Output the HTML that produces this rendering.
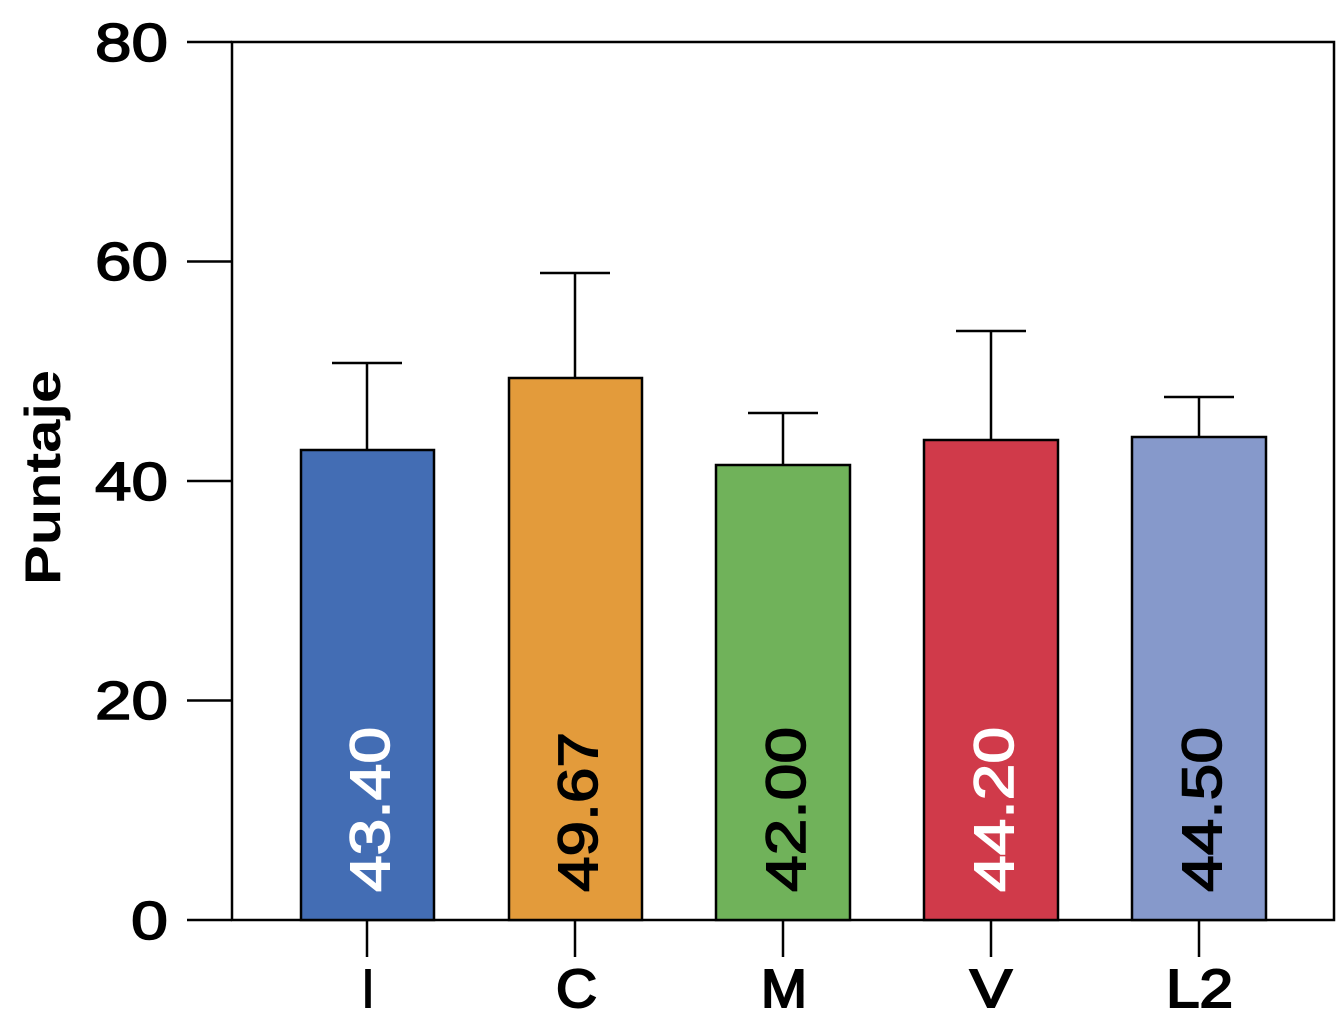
<!DOCTYPE html>
<html><head><meta charset="utf-8"><style>body{margin:0;background:#fff}svg{display:block}</style></head><body>
<svg width="1336" height="1024" xmlns="http://www.w3.org/2000/svg" font-family="Liberation Sans, sans-serif">
<rect width="1336" height="1024" fill="#fff"/>
<g stroke="#000" stroke-width="2.5" fill="none">
<rect x="232" y="42" width="1102" height="878"/>
<line x1="187" y1="42" x2="232" y2="42"/>
<line x1="187" y1="261.5" x2="232" y2="261.5"/>
<line x1="187" y1="481" x2="232" y2="481"/>
<line x1="187" y1="700.5" x2="232" y2="700.5"/>
<line x1="187" y1="920" x2="232" y2="920"/>
</g>
<g font-size="54" fill="#000" stroke="#000" stroke-width="1.5">
<text x="95" y="61" textLength="73" lengthAdjust="spacingAndGlyphs">80</text>
<text x="95" y="280" textLength="73" lengthAdjust="spacingAndGlyphs">60</text>
<text x="95" y="500" textLength="73" lengthAdjust="spacingAndGlyphs">40</text>
<text x="95" y="719" textLength="73" lengthAdjust="spacingAndGlyphs">20</text>
<text x="131" y="939" textLength="37" lengthAdjust="spacingAndGlyphs">0</text>
</g>
<text transform="translate(60,585) rotate(-90)" font-size="50" font-weight="bold" textLength="215" lengthAdjust="spacingAndGlyphs">Puntaje</text>
<g stroke="#000" stroke-width="2.5">
<line x1="367" y1="450" x2="367" y2="363"/><line x1="332" y1="363" x2="402" y2="363"/>
<line x1="575" y1="378" x2="575" y2="273"/><line x1="540" y1="273" x2="610" y2="273"/>
<line x1="783" y1="465" x2="783" y2="413"/><line x1="748" y1="413" x2="818" y2="413"/>
<line x1="991" y1="440" x2="991" y2="331"/><line x1="956" y1="331" x2="1026" y2="331"/>
<line x1="1199" y1="437" x2="1199" y2="397"/><line x1="1164" y1="397" x2="1234" y2="397"/>
<rect x="301" y="450" width="133" height="470" fill="#436db4"/>
<rect x="509" y="378" width="133" height="542" fill="#e39b3b"/>
<rect x="716" y="465" width="134" height="455" fill="#70b25a"/>
<rect x="924" y="440" width="134" height="480" fill="#d03a4a"/>
<rect x="1132" y="437" width="134" height="483" fill="#8699cb"/>
<line x1="367" y1="920" x2="367" y2="957"/>
<line x1="575" y1="920" x2="575" y2="957"/>
<line x1="783" y1="920" x2="783" y2="957"/>
<line x1="991" y1="920" x2="991" y2="957"/>
<line x1="1199" y1="920" x2="1199" y2="957"/>
</g>
<g font-size="54" fill="#000" stroke="#000" stroke-width="2">
<text x="362" y="1007" textLength="12" lengthAdjust="spacingAndGlyphs">I</text>
<text x="556" y="1007" textLength="41" lengthAdjust="spacingAndGlyphs">C</text>
<text x="761" y="1007" textLength="46" lengthAdjust="spacingAndGlyphs">M</text>
<text x="970" y="1007" textLength="42" lengthAdjust="spacingAndGlyphs">V</text>
<text x="1166" y="1007" textLength="67" lengthAdjust="spacingAndGlyphs">L2</text>
</g>
<g font-size="56" stroke-width="1.5">
<text transform="translate(389,892) rotate(-90)" fill="#fff" stroke="#fff" textLength="165" lengthAdjust="spacingAndGlyphs">43.40</text>
<text transform="translate(597,892) rotate(-90)" fill="#000" stroke="#000" textLength="160" lengthAdjust="spacingAndGlyphs">49.67</text>
<text transform="translate(805,892) rotate(-90)" fill="#000" stroke="#000" textLength="165" lengthAdjust="spacingAndGlyphs">42.00</text>
<text transform="translate(1013,892) rotate(-90)" fill="#fff" stroke="#fff" textLength="165" lengthAdjust="spacingAndGlyphs">44.20</text>
<text transform="translate(1221,892) rotate(-90)" fill="#000" stroke="#000" textLength="165" lengthAdjust="spacingAndGlyphs">44.50</text>
</g>
</svg>
</body></html>
